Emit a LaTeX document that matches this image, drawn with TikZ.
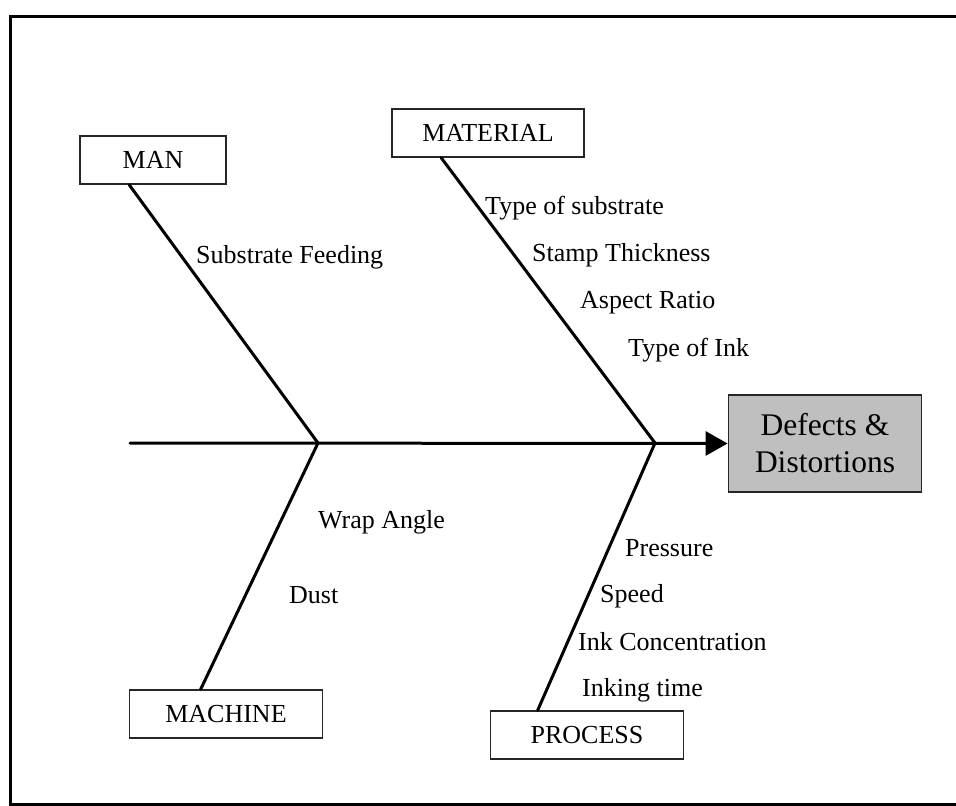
\documentclass[tikz,border=0pt]{standalone}
\usepackage{fontspec}
\setmainfont{Liberation Serif}
\usetikzlibrary{arrows.meta}
\begin{document}
\begin{tikzpicture}[x=1pt,y=-1pt,
  catbox/.style={draw=black!85,line width=1.6pt,fill=white,minimum width=#1,minimum height=48pt,inner sep=0pt,font=\fontsize{26}{30}\selectfont},
  cause/.style={anchor=west,inner sep=0pt,font=\fontsize{26}{30}\selectfont},
  bone/.style={line width=3pt,line cap=round},
  effect/.style={draw=black!85,line width=1.8pt,fill=black!25,minimum width=193pt,minimum height=97pt,inner sep=0pt,align=center,font=\fontsize{31.5}{37}\selectfont}]
\useasboundingbox (0,0) rectangle (956,806);
% outer frame, open on the right
\draw[line width=3pt] (956,16) -- (10,16) -- (10,804) -- (956,804);

% category boxes and the effect box
\node[catbox=146pt] (man) at (153,160) {MAN};
\node[catbox=192pt] (material) at (488,133) {MATERIAL};
\node[catbox=193pt] (machine) at (226,714) {MACHINE};
\node[catbox=193pt] (process) at (587,735) {PROCESS};
\node[effect] (defects) at (825,443.5) {Defects \&\\Distortions};

% spine and junctions
\coordinate (tail) at (130,443);
\coordinate (j1) at (318,443);
\coordinate (j2) at (655,443);
\draw[bone,-{Triangle[length=22pt,width=24pt]}] (tail) -- (defects.west);

% bones
\draw[bone] ([xshift=50pt]man.south west) -- (j1);
\draw[bone] ([xshift=72pt]machine.north west) -- (j1);
\draw[bone] ([xshift=50pt]material.south west) -- (j2);
\draw[bone] ([xshift=48pt]process.north west) -- (j2);

% causes
\node[cause] (feed) at (196,257) {Substrate Feeding};
\node[cause] (sub) at (485,208) {Type of substrate};
\node[cause] (stamp) at (532,255) {Stamp Thickness};
\node[cause] (aspect) at (580,303) {Aspect Ratio};
\node[cause] (ink) at (628,350) {Type of Ink};
\node[cause] (wrap) at (318,522) {Wrap Angle};
\node[cause] (dust) at (289,595) {Dust};
\node[cause] (press) at (625,548) {Pressure};
\node[cause] (speed) at (600,596) {Speed};
\node[cause] (conc) at (578,642) {Ink Concentration};
\node[cause] (itime) at (582,690) {Inking time};
\end{tikzpicture}
\end{document}
